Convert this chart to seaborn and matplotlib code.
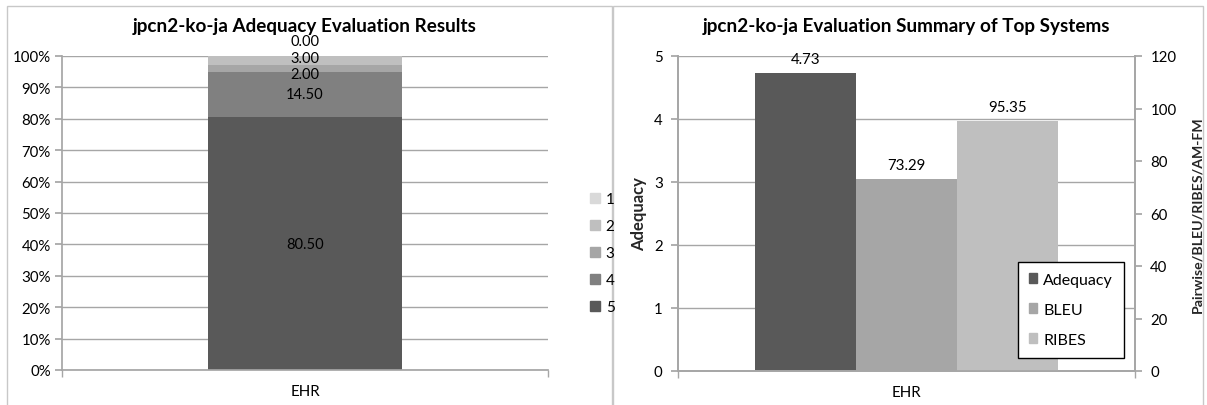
import matplotlib
matplotlib.use("Agg")
import matplotlib.pyplot as plt
from matplotlib.patches import Patch, Rectangle
import seaborn as sns
import numpy as np
import pandas as pd

system = "EHR"

# left chart: share of each adequacy score (percent)
scores = ["1", "2", "3", "4", "5"]
score_pct = [0.00, 3.00, 2.00, 14.50, 80.50]
score_colors = ["#d9d9d9", "#bfbfbf", "#a6a6a6", "#808080", "#595959"]

# right chart: summary of top systems
metrics = ["Adequacy", "BLEU", "RIBES"]
metric_values = [4.73, 73.29, 95.35]
metric_colors = ["#595959", "#a6a6a6", "#bfbfbf"]

sns.set_theme(style="white")
plt.rcParams["font.family"] = ["Lato", "DejaVu Sans"]
plt.rcParams["text.color"] = "black"
plt.rcParams["xtick.color"] = "black"
plt.rcParams["ytick.color"] = "black"

grid_c = "#a6a6a6"
W, H = 1207, 406
fig = plt.figure(figsize=(W / 100, H / 100), dpi=100)
ax1 = fig.add_axes([62 / W, 1 - 371 / H, 486 / W, 314 / H])
ax2 = fig.add_axes([678 / W, 1 - 372 / H, 457 / W, 315 / H])

# chart area frames
for x0, x1 in [(7, 612), (613, 1203)]:
    fig.patches.append(Rectangle((x0 / W, -0.05), (x1 - x0) / W, 1.05 - 7 / H,
                                 transform=fig.transFigure, fill=False,
                                 edgecolor="#c8c8c8", lw=1))

# ---- left: 100% stacked bar (score 5 at the bottom) ----
cum = [sum(score_pct[i:]) for i in range(len(scores))]
for i in range(len(scores)):
    sns.barplot(x=[system], y=[cum[i]], color=score_colors[i], saturation=1,
                width=0.4, errorbar=None, linewidth=0, ax=ax1, zorder=2)
offsets = [10.5, 2, -4, 0, 0]
for i in range(len(scores)):
    ax1.annotate(f"{score_pct[i]:.2f}", (0, cum[i] - score_pct[i] / 2),
                 xytext=(0, offsets[i]), textcoords="offset points",
                 ha="center", va="center", fontsize=10.5)

ax1.set_xlim(-0.5, 0.5)
ax1.set_ylim(0, 100)
ax1.set_yticks(np.arange(0, 101, 10))
ax1.set_yticklabels([f"{v}%" for v in range(0, 101, 10)])
ax1.yaxis.grid(True, color=grid_c, lw=1)
ax1.set_axisbelow(True)
ax1.set_xlabel("")
ax1.set_ylabel("")
ax1.set_title("jpcn2-ko-ja Adequacy Evaluation Results", fontsize=13.6,
              fontweight="bold", pad=18)
for s in ["top", "right"]:
    ax1.spines[s].set_visible(False)
for s in ["left", "bottom"]:
    ax1.spines[s].set_color(grid_c)
ax1.tick_params(axis="y", left=True, length=5, color=grid_c, labelsize=10.8, pad=3)
ax1.set_xticks([-0.5, 0.5], minor=True)
ax1.tick_params(axis="x", which="minor", bottom=True, length=5, color=grid_c)
ax1.tick_params(axis="x", which="major", length=0, labelsize=10.8, pad=10)

fig.legend([Patch(color=c) for c in score_colors], scores, loc="center left",
           bbox_to_anchor=(576 / W, 1 - 254 / H), frameon=False, fontsize=11,
           handlelength=0.65, handleheight=0.65, handletextpad=0.4, labelspacing=0.85)

# ---- right: adequacy on left axis, BLEU / RIBES on right axis ----
df = pd.DataFrame({"system": [system] * len(metrics), "metric": metrics,
                   "value": metric_values})
pal = dict(zip(metrics, metric_colors))
ax3 = ax2.twinx()
sns.barplot(data=df[df.metric == "Adequacy"], x="system", y="value", hue="metric",
            hue_order=metrics, palette=pal, saturation=1, width=0.665, dodge=True,
            errorbar=None, legend=False, linewidth=0, ax=ax2, zorder=2)
sns.barplot(data=df[df.metric != "Adequacy"], x="system", y="value", hue="metric",
            hue_order=metrics, palette=pal, saturation=1, width=0.665, dodge=True,
            errorbar=None, legend=False, linewidth=0, ax=ax3, zorder=2)

for ax in (ax2, ax3):
    for p in ax.patches:
        h = p.get_height()
        if np.isfinite(h) and h > 0:
            ax.annotate(f"{h:.2f}", (p.get_x() + p.get_width() / 2, h),
                        xytext=(0, 5), textcoords="offset points",
                        ha="center", va="bottom", fontsize=10.8)

ax2.set_xlim(-0.5, 0.5)
ax2.set_ylim(0, 5)
ax3.set_ylim(0, 120)
ax2.set_yticks(range(0, 6))
ax3.set_yticks(range(0, 121, 20))
ax2.yaxis.grid(True, color=grid_c, lw=1)
ax3.grid(False)
ax2.set_axisbelow(True)
ax2.set_xlabel("")
ax2.set_ylabel("Adequacy", fontsize=12, fontweight="bold", labelpad=5)
ax3.set_ylabel("Pairwise/BLEU/RIBES/AM-FM", fontsize=10.2, fontweight="bold", labelpad=11)
ax2.set_title("jpcn2-ko-ja Evaluation Summary of Top Systems", fontsize=13.6,
              fontweight="bold", pad=18)
for ax in (ax2, ax3):
    ax.spines["top"].set_visible(False)
    for s in ["left", "right", "bottom"]:
        ax.spines[s].set_color(grid_c)
ax2.tick_params(axis="y", left=True, length=5, color=grid_c, labelsize=10.8, pad=6)
ax3.tick_params(axis="y", right=True, length=5, color=grid_c, labelsize=10.8, pad=6)
ax2.set_xticks([-0.5, 0.5], minor=True)
ax2.tick_params(axis="x", which="minor", bottom=True, length=5, color=grid_c)
ax2.tick_params(axis="x", which="major", length=0, labelsize=10.8, pad=10)

leg = ax3.legend([Patch(color=c) for c in metric_colors], metrics,
                 loc="lower right", bbox_to_anchor=(1124 / W, 1 - 359 / H),
                 bbox_transform=fig.transFigure, borderaxespad=0, fontsize=11.5,
                 fancybox=False, framealpha=1, edgecolor="black",
                 handlelength=0.55, handleheight=0.55, handletextpad=0.35,
                 labelspacing=1.0, borderpad=0.7)
leg.get_frame().set_linewidth(1)

fig.savefig("out.png", dpi=100)
